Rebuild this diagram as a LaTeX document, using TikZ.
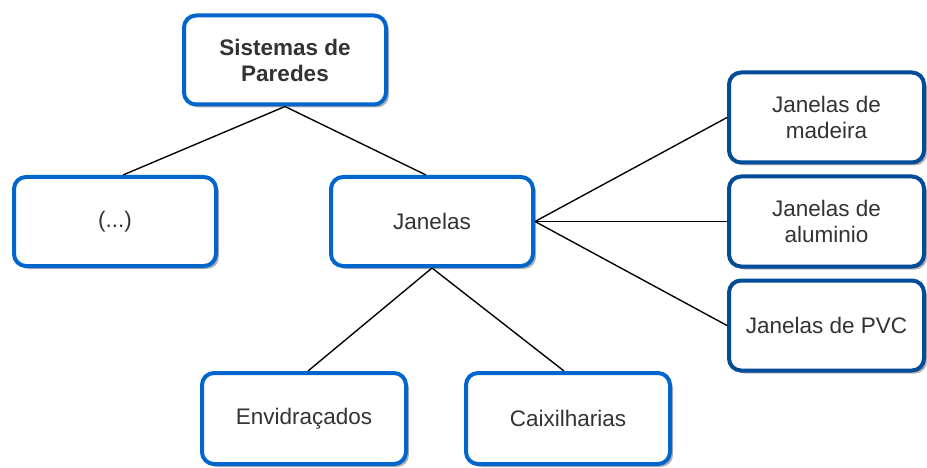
\documentclass[tikz,border=0pt]{standalone}
\usepackage{fontspec}
\setmainfont{Liberation Sans}
\usetikzlibrary{shadows,calc}
\definecolor{boxblue}{HTML}{0066CC}
\definecolor{boxdark}{HTML}{004C99}
\definecolor{txt}{HTML}{333333}
\tikzset{
  box/.style={draw=boxblue, line width=4pt, rounded corners=12pt, fill=white,
    minimum width=202pt, minimum height=89pt, align=center, text=txt,
    font=\fontsize{22.5}{26}\selectfont,
    drop shadow={shadow xshift=3pt, shadow yshift=-3pt, opacity=0.3, fill=black}},
  darkbox/.style={box, draw=boxdark, minimum width=195pt, minimum height=90pt},
  link/.style={draw=black, line width=1.3pt},
  linkshadow/.style={draw=black!25, line width=1.3pt}
}
\begin{document}
\begin{tikzpicture}[x=1pt,y=-1pt]
\useasboundingbox (0,0) rectangle (927,468);
\node[box, font=\bfseries\fontsize{22.5}{26}\selectfont] (top) at (285,60) {Sistemas de\\Paredes};
\node[box] (dots) at (115,221.5) {(...)};
\node[box] (jan) at (432,221.5) {Janelas};
\node[box, minimum width=204pt, minimum height=91pt] (env) at (304,418.5) {Envidraçados};
\node[box, minimum width=204pt, minimum height=91pt] (caix) at (568,418.5) {Caixilharias};
\node[darkbox] (mad) at (826.5,117.5) {Janelas de\\madeira};
\node[darkbox] (alu) at (826.5,221.5) {Janelas de\\aluminio};
\node[darkbox] (pvc) at (826.5,325.5) {Janelas de PVC};
% connector shadows
\begin{scope}[shift={(1.5,1.5)}]
\draw[linkshadow] (top.south) -- ($(dots.north)+(8,0)$);
\draw[linkshadow] (top.south) -- ($(jan.north)+(-6,0)$);
\draw[linkshadow] (jan.east) -- (mad.west);
\draw[linkshadow] (jan.east) -- (alu.west);
\draw[linkshadow] (jan.east) -- (pvc.west);
\draw[linkshadow] (jan.south) -- ($(env.north)+(4,0)$);
\draw[linkshadow] (jan.south) -- ($(caix.north)+(-4,0)$);
\end{scope}
% connectors
\draw[link] (top.south) -- ($(dots.north)+(8,0)$);
\draw[link] (top.south) -- ($(jan.north)+(-6,0)$);
\draw[link] (jan.east) -- (mad.west);
\draw[link] (jan.east) -- (alu.west);
\draw[link] (jan.east) -- (pvc.west);
\draw[link] (jan.south) -- ($(env.north)+(4,0)$);
\draw[link] (jan.south) -- ($(caix.north)+(-4,0)$);
\end{tikzpicture}
\end{document}
